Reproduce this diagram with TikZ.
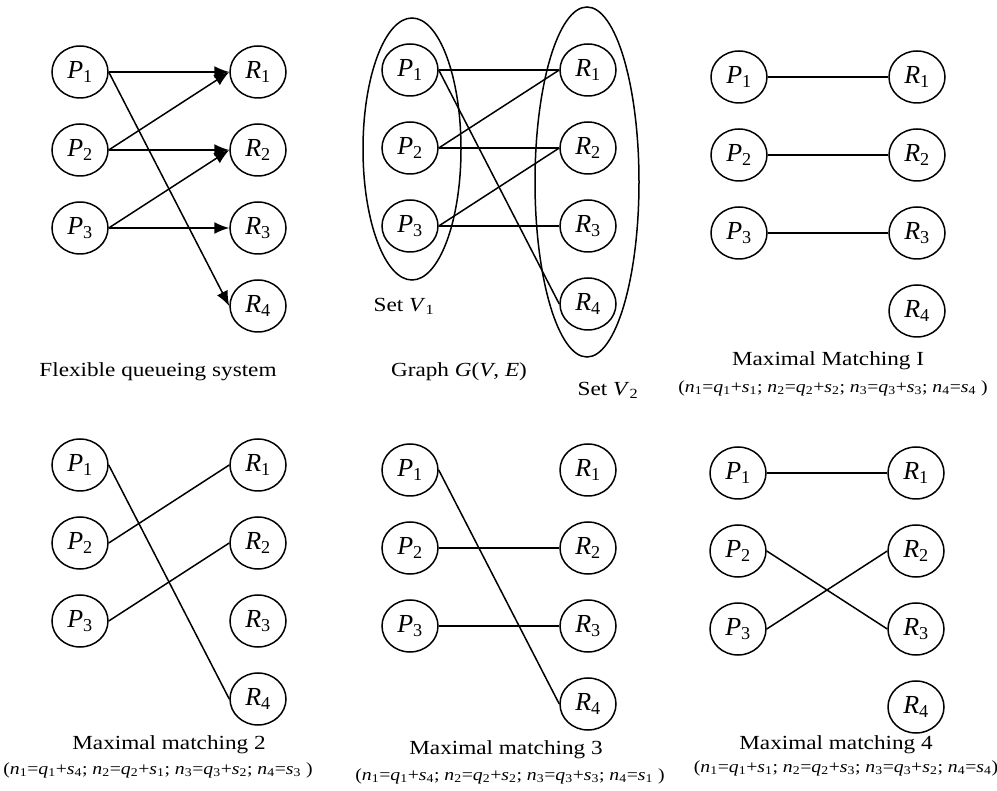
\documentclass[tikz,border=0pt]{standalone}
\usepackage{fontspec}
\usepackage{graphicx}
\setmainfont{Liberation Serif}
\usetikzlibrary{arrows.meta,shapes.geometric}
\newcommand{\sv}[2]{\textit{#1}\textsubscript{#2}}
\newcommand{\stretchx}[1]{\scalebox{1.16}[1]{#1}}
\newcommand{\mkpanel}[3]{%
  \node[vtx] (#1P1) at (#2,#3) {\sv{P}{1}};
  \node[vtx] (#1P2) at (#2,#3+78) {\sv{P}{2}};
  \node[vtx] (#1P3) at (#2,#3+156) {\sv{P}{3}};
  \node[vtx] (#1R1) at (#2+178,#3) {\sv{R}{1}};
  \node[vtx] (#1R2) at (#2+178,#3+78) {\sv{R}{2}};
  \node[vtx] (#1R3) at (#2+178,#3+156) {\sv{R}{3}};
  \node[vtx] (#1R4) at (#2+178,#3+234) {\sv{R}{4}};
}
\tikzset{
  vtx/.style={ellipse, draw, line width=1.5pt, minimum width=56pt, minimum height=52pt, inner sep=0pt, font=\fontsize{26}{28}\selectfont},
  edge/.style={line width=1.5pt},
  arr/.style={line width=1.5pt, -{Latex[length=15pt,width=12pt]}},
  captxt/.style={font=\fontsize{20}{24}\selectfont, inner sep=0pt},
  formtxt/.style={font=\fontsize{17}{20}\selectfont, inner sep=0pt},
  setell/.style={ellipse, draw, line width=1.5pt, inner sep=0pt}
}
\begin{document}
\begin{tikzpicture}[x=1pt,y=-1pt]
\useasboundingbox (0,0) rectangle (997,791);
% ---- panel A: flexible queueing system
\mkpanel{a}{80}{72}
\draw[arr] (aP1.east) -- (aR1.west);
\draw[arr] (aP1.east) -- (aR4.west);
\draw[arr] (aP2.east) -- (aR1.west);
\draw[arr] (aP2.east) -- (aR2.west);
\draw[arr] (aP3.east) -- (aR2.west);
\draw[arr] (aP3.east) -- (aR3.west);
\node[captxt] (capa) at (158,372) {\stretchx{Flexible queueing system}};
% ---- panel B: graph
\node[setell, minimum width=98pt, minimum height=262pt] (setone) at (412,149) {};
\node[setell, minimum width=104pt, minimum height=350pt] (settwo) at (587,182) {};
\mkpanel{b}{410}{70}
\draw[edge] (bP1.east) -- (bR1.west);
\draw[edge] (bP1.east) -- (bR4.west);
\draw[edge] (bP2.east) -- (bR1.west);
\draw[edge] (bP2.east) -- (bR2.west);
\draw[edge] (bP3.east) -- (bR2.west);
\draw[edge] (bP3.east) -- (bR3.west);
\node[captxt] (lblone) at (404,306) {\stretchx{Set \sv{V}{1}}};
\node[captxt] (capb) at (459,372) {\stretchx{Graph \textit{G}(\textit{V}, \textit{E})}};
\node[captxt] (lbltwo) at (608,390) {\stretchx{Set \sv{V}{2}}};
% ---- panel C: matching 1
\mkpanel{c}{739}{77}
\draw[edge] (cP1.east) -- (cR1.west);
\draw[edge] (cP2.east) -- (cR2.west);
\draw[edge] (cP3.east) -- (cR3.west);
\node[captxt] (capc) at (828,361) {\stretchx{Maximal Matching I}};
\node[formtxt] (formc) at (833,388) {\stretchx{(\sv{n}{1}=\sv{q}{1}+\sv{s}{1}; \sv{n}{2}=\sv{q}{2}+\sv{s}{2}; \sv{n}{3}=\sv{q}{3}+\sv{s}{3}; \sv{n}{4}=\sv{s}{4} )}};
% ---- panel D: matching 2
\mkpanel{d}{80}{465}
\draw[edge] (dP1.east) -- (dR4.west);
\draw[edge] (dP2.east) -- (dR1.west);
\draw[edge] (dP3.east) -- (dR2.west);
\node[captxt] (capd) at (169,745) {\stretchx{Maximal matching 2}};
\node[formtxt] (formd) at (158,770) {\stretchx{(\sv{n}{1}=\sv{q}{1}+\sv{s}{4}; \sv{n}{2}=\sv{q}{2}+\sv{s}{1}; \sv{n}{3}=\sv{q}{3}+\sv{s}{2}; \sv{n}{4}=\sv{s}{3} )}};
% ---- panel E: matching 3
\mkpanel{e}{410}{470}
\draw[edge] (eP1.east) -- (eR4.west);
\draw[edge] (eP2.east) -- (eR2.west);
\draw[edge] (eP3.east) -- (eR3.west);
\node[captxt] (cape) at (506,750) {\stretchx{Maximal matching 3}};
\node[formtxt] (forme) at (510,776) {\stretchx{(\sv{n}{1}=\sv{q}{1}+\sv{s}{4}; \sv{n}{2}=\sv{q}{2}+\sv{s}{2}; \sv{n}{3}=\sv{q}{3}+\sv{s}{3}; \sv{n}{4}=\sv{s}{1} )}};
% ---- panel F: matching 4
\mkpanel{f}{738}{473}
\draw[edge] (fP1.east) -- (fR1.west);
\draw[edge] (fP2.east) -- (fR3.west);
\draw[edge] (fP3.east) -- (fR2.west);
\node[captxt] (capf) at (836,745) {\stretchx{Maximal matching 4}};
\node[formtxt] (formf) at (846,768) {\stretchx{(\sv{n}{1}=\sv{q}{1}+\sv{s}{1}; \sv{n}{2}=\sv{q}{2}+\sv{s}{3}; \sv{n}{3}=\sv{q}{3}+\sv{s}{2}; \sv{n}{4}=\sv{s}{4})}};
\end{tikzpicture}
\end{document}
